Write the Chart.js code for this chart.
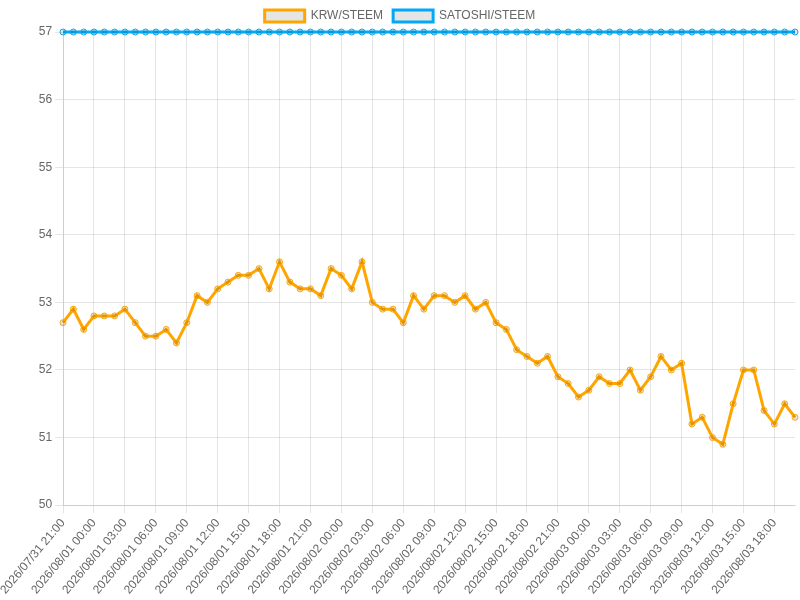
<!DOCTYPE html>
<html>
<head>
<meta charset="utf-8">
<script src="https://cdn.jsdelivr.net/npm/chart.js@4"></script>
<style>
    html, body { margin: 0; padding: 0; background: #fff; }
    #wrap { width: 800px; height: 600px; position: relative; }
</style>
</head>
<body>
<div id="wrap"><canvas id="chart-price"></canvas></div>
<script>
// Hourly labels, 2026/07/31 21:00 .. 2026/08/03 20:00
const hourLabels = [
    '2026/07/31 21:00', '2026/07/31 22:00', '2026/07/31 23:00',
    '2026/08/01 00:00', '2026/08/01 01:00', '2026/08/01 02:00', '2026/08/01 03:00', '2026/08/01 04:00', '2026/08/01 05:00',
    '2026/08/01 06:00', '2026/08/01 07:00', '2026/08/01 08:00', '2026/08/01 09:00', '2026/08/01 10:00', '2026/08/01 11:00',
    '2026/08/01 12:00', '2026/08/01 13:00', '2026/08/01 14:00', '2026/08/01 15:00', '2026/08/01 16:00', '2026/08/01 17:00',
    '2026/08/01 18:00', '2026/08/01 19:00', '2026/08/01 20:00', '2026/08/01 21:00', '2026/08/01 22:00', '2026/08/01 23:00',
    '2026/08/02 00:00', '2026/08/02 01:00', '2026/08/02 02:00', '2026/08/02 03:00', '2026/08/02 04:00', '2026/08/02 05:00',
    '2026/08/02 06:00', '2026/08/02 07:00', '2026/08/02 08:00', '2026/08/02 09:00', '2026/08/02 10:00', '2026/08/02 11:00',
    '2026/08/02 12:00', '2026/08/02 13:00', '2026/08/02 14:00', '2026/08/02 15:00', '2026/08/02 16:00', '2026/08/02 17:00',
    '2026/08/02 18:00', '2026/08/02 19:00', '2026/08/02 20:00', '2026/08/02 21:00', '2026/08/02 22:00', '2026/08/02 23:00',
    '2026/08/03 00:00', '2026/08/03 01:00', '2026/08/03 02:00', '2026/08/03 03:00', '2026/08/03 04:00', '2026/08/03 05:00',
    '2026/08/03 06:00', '2026/08/03 07:00', '2026/08/03 08:00', '2026/08/03 09:00', '2026/08/03 10:00', '2026/08/03 11:00',
    '2026/08/03 12:00', '2026/08/03 13:00', '2026/08/03 14:00', '2026/08/03 15:00', '2026/08/03 16:00', '2026/08/03 17:00',
    '2026/08/03 18:00', '2026/08/03 19:00', '2026/08/03 20:00'
];

const krwSteem = [
    52.7, 52.9, 52.6, 52.8, 52.8, 52.8, 52.9, 52.7, 52.5, 52.5, 52.6, 52.4,
    52.7, 53.1, 53.0, 53.2, 53.3, 53.4, 53.4, 53.5, 53.2, 53.6, 53.3, 53.2,
    53.2, 53.1, 53.5, 53.4, 53.2, 53.6, 53.0, 52.9, 52.9, 52.7, 53.1, 52.9,
    53.1, 53.1, 53.0, 53.1, 52.9, 53.0, 52.7, 52.6, 52.3, 52.2, 52.1, 52.2,
    51.9, 51.8, 51.6, 51.7, 51.9, 51.8, 51.8, 52.0, 51.7, 51.9, 52.2, 52.0,
    52.1, 51.2, 51.3, 51.0, 50.9, 51.5, 52.0, 52.0, 51.4, 51.2, 51.5, 51.3
];

const satoshiSteem = [
    57, 57, 57, 57, 57, 57, 57, 57, 57, 57, 57, 57,
    57, 57, 57, 57, 57, 57, 57, 57, 57, 57, 57, 57,
    57, 57, 57, 57, 57, 57, 57, 57, 57, 57, 57, 57,
    57, 57, 57, 57, 57, 57, 57, 57, 57, 57, 57, 57,
    57, 57, 57, 57, 57, 57, 57, 57, 57, 57, 57, 57,
    57, 57, 57, 57, 57, 57, 57, 57, 57, 57, 57, 57
];

Chart.defaults.font.family = '"Liberation Sans", Arial, Helvetica, sans-serif';
Chart.defaults.font.size = 12;
Chart.defaults.color = '#666';

const ctx = document.getElementById('chart-price').getContext('2d');
new Chart(ctx, {
    type: 'line',
    data: {
        labels: hourLabels,
        datasets: [{
            label: 'KRW/STEEM',
            data: krwSteem,
            borderColor: '#ffa500',
            backgroundColor: 'rgba(0,0,0,0.1)',
            borderWidth: 3,
            pointRadius: 3,
            pointBorderWidth: 1,
            fill: false,
            tension: 0,
            clip: false
        }, {
            label: 'SATOSHI/STEEM',
            data: satoshiSteem,
            borderColor: '#03a9f4',
            backgroundColor: 'rgba(0,0,0,0.1)',
            borderWidth: 3,
            pointRadius: 3,
            pointBorderWidth: 1,
            fill: false,
            tension: 0,
            clip: false
        }]
    },
    options: {
        responsive: true,
        maintainAspectRatio: false,
        animation: false,
        scales: {
            x: {
                grid: { color: 'rgba(0,0,0,0.1)' },
                ticks: { autoSkip: true }
            },
            y: {
                min: 50,
                max: 57,
                ticks: { stepSize: 1 },
                grid: { color: 'rgba(0,0,0,0.1)' }
            }
        },
        plugins: {
            legend: {
                position: 'top'
            }
        }
    }
});
</script>
</body>
</html>
